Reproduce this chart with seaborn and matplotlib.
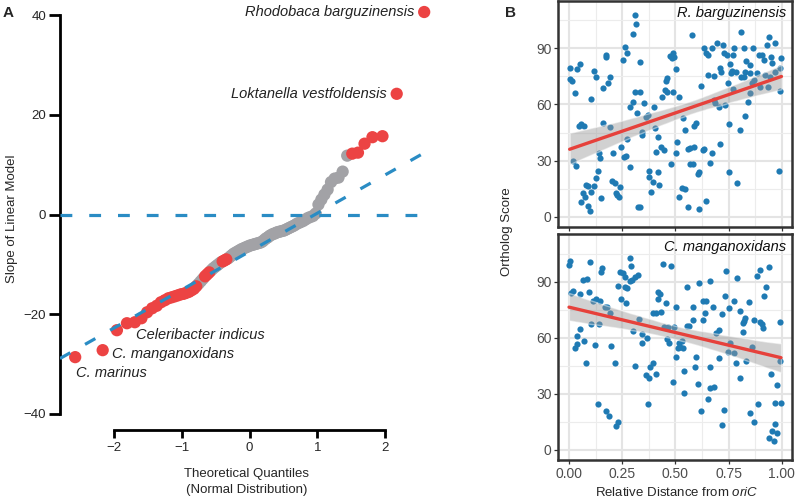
import statistics
import numpy as np
import pandas as pd
import seaborn as sns
import matplotlib.pyplot as plt
from matplotlib.ticker import MultipleLocator
from matplotlib.collections import PolyCollection

# ---- panel A: slope of ortholog score ~ distance, one value per genome (sorted)
slopes = [-28.6, -27.2, -23.2, -21.8, -21.6, -20.8, -19.6, -18.8, -18.3, -17.6,
          -17.2, -16.8, -16.6, -16.4, -16.2, -16.0, -15.9, -15.7, -15.5, -15.2,
          -14.9, -14.4, -13.9, -13.4, -12.9, -12.4, -12.0, -11.6, -11.2, -10.8,
          -10.5, -10.2, -9.9, -9.6, -9.4, -9.2, -9.0, -8.8, -8.5, -8.2,
          -7.9, -7.7, -7.5, -7.3, -7.1, -6.9, -6.8, -6.6, -6.5, -6.3,
          -6.2, -6.1, -6.0, -5.9, -5.8, -5.7, -5.6, -5.4, -5.1, -4.8,
          -4.6, -4.3, -4.1, -3.9, -3.8, -3.6, -3.5, -3.4, -3.3, -3.2,
          -3.0, -2.8, -2.6, -2.4, -2.2, -1.9, -1.7, -1.5, -1.3, -1.0,
          -0.7, -0.5, -0.3, 0.2, 2.0, 3.0, 4.0, 5.0, 6.5, 7.2,
          7.4, 8.6, 11.8, 12.2, 12.4, 14.2, 15.5, 15.7, 24.2, 40.6]
significant = [1] * 22 + [0] * 3 + [1] * 3 + [0] * 6 + [1] * 3 + [0] * 56 + [1] * 7
labelled = {99: "Rhodobaca barguzinensis", 98: "Loktanella vestfoldensis",
            2: "Celeribacter indicus", 1: "C. manganoxidans", 0: "C. marinus"}
qq_intercept = -7.4
qq_slope = 7.67

# ---- panel B: ortholog score vs relative distance from oriC
rb_dist = [0.312, 0.317, 0.302, 0.265, 0.274, 0.254, 0.172, 0.175, 0.003, 0.039,
           0.05, 0.006, 0.012, 0.116, 0.128, 0.191, 0.183, 0.16, 0.03, 0.105,
           0.312, 0.302, 0.288, 0.321, 0.047, 0.058, 0.069, 0.16, 0.195, 0.019,
           0.034, 0.141, 0.147, 0.207, 0.246, 0.258, 0.266, 0.274, 0.288, 0.138,
           0.128, 0.078, 0.091, 0.116, 0.105, 0.066, 0.075, 0.058, 0.089, 0.097,
           0.152, 0.203, 0.214, 0.241, 0.219, 0.227, 0.233, 0.325,
           0.334, 0.335, 0.354, 0.37, 0.362, 0.398, 0.342, 0.342, 0.406, 0.42,
           0.409, 0.433, 0.445, 0.378, 0.417, 0.375, 0.393, 0.425, 0.385, 0.335,
           0.476, 0.487, 0.495, 0.482, 0.501, 0.461, 0.457, 0.449, 0.46, 0.436,
           0.491, 0.519, 0.578, 0.534, 0.589, 0.597, 0.545, 0.479, 0.503, 0.508,
           0.558, 0.569, 0.589, 0.628, 0.636, 0.571, 0.582, 0.605, 0.613, 0.531,
           0.547, 0.519, 0.561, 0.613, 0.645, 0.634, 0.645, 0.655, 0.671, 0.653,
           0.621, 0.68,
           0.81, 0.939, 0.97, 0.931, 0.696, 0.724, 0.821, 0.865, 0.778, 0.73,
           0.743, 0.771, 0.892, 0.907, 0.95, 0.915, 0.832, 0.853, 0.759, 0.712,
           0.955, 0.999, 0.994, 0.97, 0.767, 0.787, 0.762, 0.829, 0.849, 0.683,
           0.716, 0.81, 0.821, 0.868, 0.883, 0.92, 0.943, 0.746, 0.861, 0.9,
           0.934, 0.994, 0.771, 0.853, 0.842, 0.688, 0.704, 0.735, 0.826, 0.754,
           0.803, 0.712, 0.672, 0.665, 0.754, 0.986, 0.79]
rb_score = [107.8, 103, 97.5, 90.5, 87.3, 83.7, 86.4, 85.5, 79.3, 78.7,
            81.6, 73.4, 72.3, 78, 74.8, 74.8, 71.3, 68.6, 66.3, 62.7,
            66.7, 61.5, 58.8, 55.3, 48.5, 49.6, 48.5, 49.9, 47.8, 29.9,
            27.1, 33.9, 31.4, 33.9, 37.4, 31.9, 32.2, 41.4, 26.7, 24.4,
            20.5, 16.9, 16.4, 16.4, 13.4, 12.8, 10.7, 7.7, 5.7, 3.2,
            9.8, 19.1, 17.8, 16, 12.8, 11.6, 10.7, 5.3,
            82.8, 66.5, 60.6, 54.4, 53.4, 58.8, 45.4, 43.6, 47.2, 42.8,
            34.4, 37.1, 35.7, 24.6, 23.9, 21.4, 18.7, 16.9, 13.3, 5,
            86, 87.3, 85.5, 84.6, 78.9, 74, 72.7, 67.7, 66.7, 64.1,
            66.4, 63.8, 97.1, 52.6, 48.5, 49.9, 46.3, 28.2, 33.9, 40.1,
            36.2, 36.9, 37.4, 35.9, 36.2, 28.2, 28.2, 22.8, 23.7, 15.2,
            14.6, 10.4, 5.3, 3.9, 8.4, 90, 87.5, 86.2, 90, 75.7,
            69.9, 62.4,
            98.5, 96.2, 92.7, 91.8, 92.7, 91.8, 90, 90, 90, 87.3,
            86.4, 86.4, 86.4, 86.4, 85.2, 84, 83.2, 81.1, 81.6, 79.4,
            82.4, 84.6, 79.4, 77.5, 78, 77.5, 76.6, 77.5, 76.6, 75.2,
            77.5, 74.5, 74.8, 73.3, 76.6, 75.7, 74.8, 71.3, 71.3, 69.1,
            69.1, 67.4, 68.1, 66.3, 61.5, 61, 58.8, 59.7, 53.8, 49.5,
            46.3, 38.9, 33.9, 28.5, 24.1, 24.6, 18.2]

cm_dist = [0.003, 0.0, 0.1, 0.156, 0.152, 0.066, 0.084, 0.238, 0.254, 0.285,
           0.293, 0.262, 0.297, 0.308, 0.285, 0.23, 0.262, 0.273, 0.008, 0.019,
           0.053, 0.094, 0.112, 0.125, 0.144, 0.246, 0.27, 0.168, 0.179, 0.194,
           0.105, 0.139, 0.053, 0.039, 0.3, 0.026, 0.039, 0.07, 0.124, 0.199,
           0.078, 0.215, 0.312, 0.136, 0.172, 0.186, 0.23, 0.219,
           0.326, 0.444, 0.48, 0.42, 0.429, 0.417, 0.456, 0.505, 0.393, 0.409,
           0.433, 0.331, 0.342, 0.342, 0.365, 0.448, 0.464, 0.492, 0.459, 0.468,
           0.519, 0.524, 0.535, 0.511, 0.531, 0.503, 0.553, 0.566, 0.582, 0.555,
           0.613, 0.632, 0.644, 0.665, 0.582, 0.64, 0.676, 0.628, 0.383, 0.393,
           0.362, 0.375, 0.409, 0.37, 0.542, 0.487, 0.542, 0.597, 0.594, 0.608,
           0.655, 0.665, 0.621, 0.665,
           0.74, 0.79, 0.884, 0.9, 0.939, 0.927, 0.916, 0.732, 0.775, 0.846,
           0.754, 0.806, 0.72, 0.829, 0.821, 0.816, 0.872, 0.9, 0.908, 0.912,
           0.99, 0.817, 0.706, 0.692, 0.758, 0.777, 0.787, 0.834, 0.861, 0.746,
           0.703, 0.99, 0.951, 0.978, 0.802, 0.683, 0.727, 0.719, 0.887, 0.85,
           0.868, 0.967, 0.997, 0.97, 0.955, 0.978, 0.939, 0.963]
cm_score = [101.2, 98.9, 100.4, 97.1, 95.4, 90.9, 91.3, 95, 94.4, 102.8,
            98.4, 92.7, 90.9, 92.7, 90.5, 87.7, 87, 86.4, 83.8, 85.1,
            83.4, 84.7, 79.8, 80.5, 79.6, 80.7, 78.7, 76.6, 76.2, 73.1,
            67.2, 67.3, 64.5, 61.1, 63.7, 54.3, 56.7, 58, 56.2, 55.6,
            46.6, 46.6, 45, 24.5, 20.7, 18.2, 15, 12.9,
            93.6, 99.3, 98.4, 84.6, 83.4, 80.7, 78.7, 76.2, 73.1, 73.4,
            74, 69.8, 62, 57, 59.7, 65.5, 65.9, 65.9, 59.1, 57,
            57, 54.8, 54.3, 54.3, 58.2, 49.8, 66.3, 66.3, 69.5, 87,
            89.3, 79.6, 79.6, 90.5, 76.6, 73.4, 76.2, 69.5, 44.5, 46.6,
            40, 38.2, 40.7, 24.5, 30.5, 36.1, 42.3, 49.8, 44.1, 35,
            27, 44.4, 20.9, 33.2,
            95.7, 92.1, 93.3, 96.3, 97.7, 87.3, 82.6, 82.3, 79.8, 78.9,
            75.7, 74.5, 72.7, 70.4, 69.1, 67.7, 69.5, 68.6, 67.2, 65.1,
            68.2, 63.2, 64.1, 62.3, 57.3, 51.6, 46.3, 47.5, 55.1, 52.6,
            49, 47.5, 40.4, 34.7, 38.2, 33.6, 21.3, 13.2, 24.3, 19.8,
            14.6, 24.8, 24.8, 13.8, 10, 8.8, 6.1, 4.9]

RED = "#ec4343"
GREY = "#a2a2a6"
BLUE = "#2a8cc4"
DOT = "#1f7ab3"
LINE = "#e6413b"

sns.set_theme(style="white")
plt.rcParams['font.family'] = ['Liberation Sans', 'DejaVu Sans']
plt.rcParams['mathtext.fontset'] = 'custom'
plt.rcParams['mathtext.rm'] = 'Liberation Sans'
plt.rcParams['mathtext.it'] = 'Liberation Sans:italic'

fig = plt.figure(figsize=(7.95, 4.97), dpi=100)

# ---------------- panel A ----------------
n = len(slopes)
theo = [statistics.NormalDist().inv_cdf((i + 0.5) / n) for i in range(n)]
qq = pd.DataFrame({"theo": theo, "slope": slopes, "sig": significant})
qq = qq.sort_values("sig", kind="stable")

axA = fig.add_axes([60 / 795, 83 / 497, 372.6 / 795, 399 / 497])
sns.scatterplot(data=qq, x="theo", y="slope", hue="sig", palette={0: GREY, 1: RED},
                s=78, linewidth=0, legend=False, ax=axA, clip_on=False, zorder=2)
axA.set_xlim(-2.8, 2.7)
axA.set_ylim(-40, 40)

xs = np.array(axA.get_xlim())
axA.plot(xs, qq_intercept + qq_slope * xs, color=BLUE, lw=2.3,
         linestyle=(0, (3.7, 5.3)), zorder=3)
axA.plot([xs[0], 2.62], [0, 0], color=BLUE, lw=2.3,
         linestyle=(0, (3.7, 5.3)), zorder=3)

for idx, name in labelled.items():
    xy = (theo[idx], slopes[idx])
    if idx >= 98:
        off, ha = (-7, 0), "right"
    elif idx == 2:
        off, ha = (14, -3.6), "left"
    elif idx == 1:
        off, ha = (7, -3), "left"
    else:
        off, ha = (0.5, -11.5), "left"
    axA.annotate(name, xy=xy, xytext=off, textcoords="offset points",
                 ha=ha, va="center", style="italic", fontsize=10.5,
                 color="#222222", annotation_clip=False)

sns.despine(ax=axA)
axA.spines["left"].set_bounds(-40, 40)
axA.spines["bottom"].set_bounds(-2, 2)
axA.spines["bottom"].set_position(("outward", 11.5))
for s in ["left", "bottom"]:
    axA.spines[s].set_linewidth(2)
    axA.spines[s].set_color("black")
axA.set_xticks([-2, -1, 0, 1, 2])
axA.set_yticks([-40, -20, 0, 20, 40])
axA.tick_params(axis="y", left=True, length=8, width=2, pad=2, labelsize=9.5, color="black")
axA.tick_params(axis="x", bottom=True, length=6, width=2, pad=3, labelsize=9.5, color="black")
axA.set_xlabel("Theoretical Quantiles\n(Normal Distribution)", fontsize=9.5,
               labelpad=10, linespacing=1.35)
axA.set_ylabel("Slope of Linear Model", fontsize=9.5)
axA.yaxis.set_label_coords(-0.112, 0.49)

# ---------------- panel B ----------------
left_b = 558.4 / 795
width_b = 233.9 / 795
axT = fig.add_axes([left_b, 270 / 497, width_b, 226.4 / 497])
axB = fig.add_axes([left_b, 37 / 497, width_b, 225.9 / 497])

for ax, xd, yd, name in [(axT, rb_dist, rb_score, "R. barguzinensis"),
                         (axB, cm_dist, cm_score, "C. manganoxidans")]:
    ax.set_axisbelow(True)
    sns.regplot(x=np.array(xd), y=np.array(yd), ax=ax, ci=95, seed=3,
                scatter_kws=dict(s=20, color=DOT, linewidths=0, alpha=1, zorder=2),
                line_kws=dict(color=LINE, lw=2.4, zorder=4))
    for coll in ax.collections:
        if isinstance(coll, PolyCollection):
            coll.set_facecolor("#999999")
            coll.set_alpha(0.45)
            coll.set_zorder(3)
    ax.set_xlim(-0.05, 1.05)
    ax.set_ylim(-5.5, 115.5)
    ax.xaxis.set_major_locator(MultipleLocator(0.25))
    ax.xaxis.set_minor_locator(MultipleLocator(0.125))
    ax.yaxis.set_major_locator(MultipleLocator(30))
    ax.yaxis.set_minor_locator(MultipleLocator(15))
    ax.grid(which="major", color="#e4e4e4", lw=1.5)
    ax.grid(which="minor", color="#ececec", lw=0.8)
    ax.tick_params(which="major", length=3, width=0.9, color="#333333",
                   labelsize=10, labelcolor="#4d4d4d", pad=2, bottom=True, left=True)
    ax.tick_params(which="minor", length=0)
    for s in ax.spines.values():
        s.set_visible(True)
        s.set_color("#333333")
        s.set_linewidth(1.8)
    ax.set_xlabel("")
    ax.set_ylabel("")
    ax.text(0.975, 0.975, name, transform=ax.transAxes, ha="right", va="top",
            style="italic", fontsize=10.5, color="#111111")

axT.tick_params(labelbottom=False)
axB.set_xticks([0, 0.25, 0.5, 0.75, 1.0])
axB.set_xticklabels(["0.00", "0.25", "0.50", "0.75", "1.00"])

fig.text(507 / 795, 1 - 232 / 497, "Ortholog Score", rotation=90,
         ha="center", va="center", fontsize=9.5)
fig.text(677 / 795, 1 - 492 / 497, "Relative Distance from $\\mathit{oriC}$",
         ha="center", va="center", fontsize=9.5)

fig.text(3 / 795, 1 - 6 / 497, "A", fontsize=11, fontweight="bold", ha="left", va="top")
fig.text(505 / 795, 1 - 6 / 497, "B", fontsize=11, fontweight="bold", ha="left", va="top")

fig.savefig("out.png", dpi=100)
